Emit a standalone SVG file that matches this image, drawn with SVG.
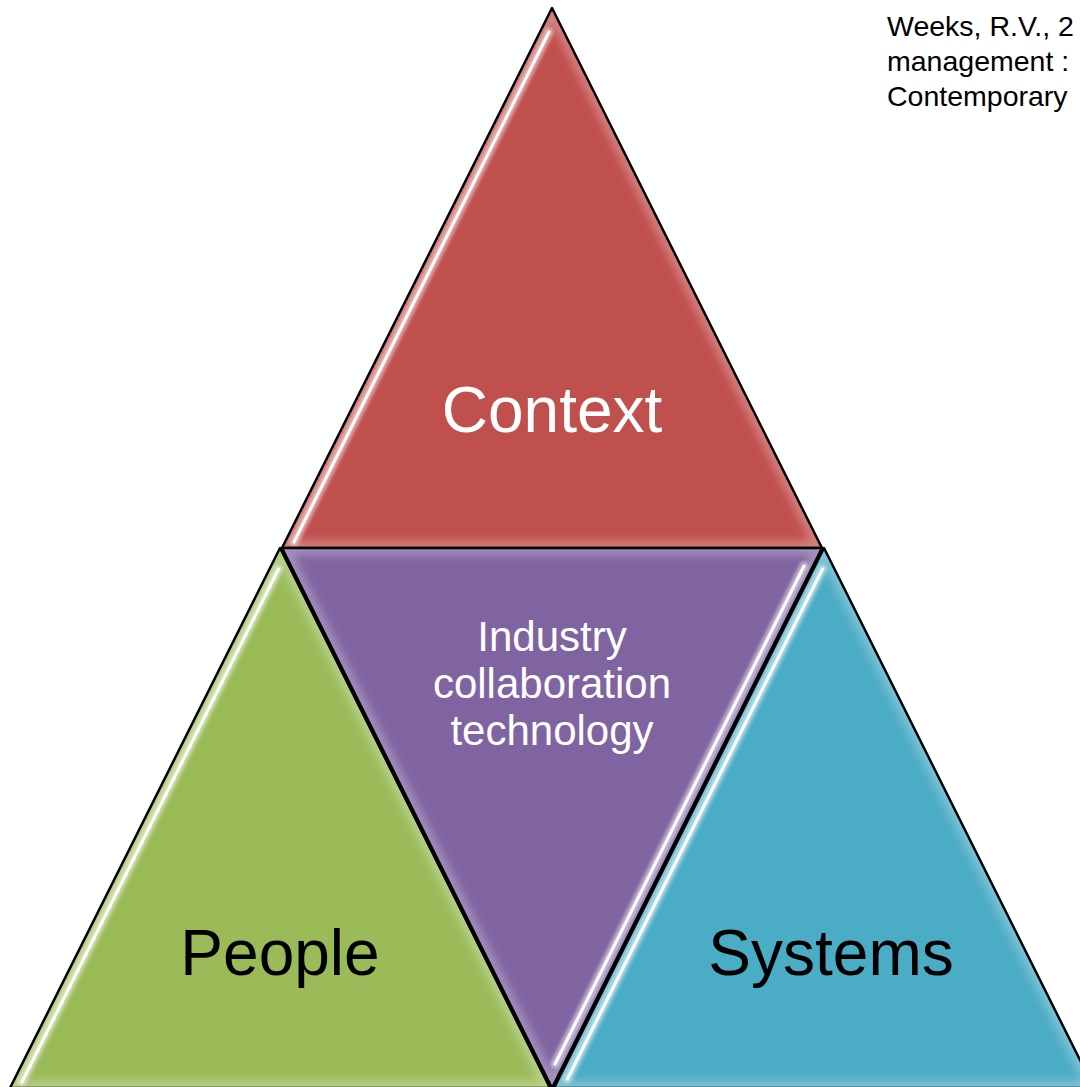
<svg xmlns="http://www.w3.org/2000/svg" width="1080" height="1087" viewBox="0 0 1080 1087">
  <style>
    .outline { fill: none; stroke: #000; stroke-width: 2.5; stroke-linejoin: round; }
    .rim { fill: none; stroke: #fff; stroke-opacity: 0.28; stroke-width: 14; filter: url(#soft); }
    .band { fill: none; stroke: #fff; stroke-opacity: 0.45; stroke-width: 9; stroke-linecap: round; filter: url(#soft2); }
    .gloss { fill: none; stroke: #fff; stroke-width: 3; stroke-linecap: round; }
    .big { font-family: "Liberation Sans", Arial, sans-serif; font-size: 64px; text-anchor: middle; }
    .mid { font-family: "Liberation Sans", Arial, sans-serif; font-size: 42px; text-anchor: middle; fill: #fff; }
    .ref { font-family: "Liberation Sans", Arial, sans-serif; font-size: 28.5px; fill: #000; }
  </style>
  <defs>
    <filter id="soft" x="-10%" y="-10%" width="120%" height="120%"><feGaussianBlur stdDeviation="4"/></filter>
    <filter id="soft2" x="-10%" y="-10%" width="120%" height="120%"><feGaussianBlur stdDeviation="1.5"/></filter>
    <clipPath id="cTop"><path d="M552,8 L822,548 L282,548 Z"/></clipPath>
    <clipPath id="cLeft"><path d="M280,548 L550,1088 L10,1088 Z"/></clipPath>
    <clipPath id="cMid"><path d="M282,548 L822,548 L552,1088 Z"/></clipPath>
    <clipPath id="cRight"><path d="M824,548 L1094,1088 L554,1088 Z"/></clipPath>
  </defs>
  <rect width="1080" height="1087" fill="#fff"/>

  <g id="context">
    <path d="M552,8 L822,548 L282,548 Z" fill="#C0504D"/>
    <g clip-path="url(#cTop)">
      <path class="rim" d="M552,8 L822,548 L282,548 Z"/>
      <path class="band" d="M549,32 L294,542"/>
      <path class="gloss" d="M549,32 L294,542"/>
    </g>
    <path class="outline" d="M552,8 L822,548 L282,548 Z"/>
    <text class="big" x="552" y="432" fill="#fff">Context</text>
  </g>

  <g id="people">
    <path d="M280,548 L550,1088 L10,1088 Z" fill="#9BBB59"/>
    <g clip-path="url(#cLeft)">
      <path class="rim" d="M280,548 L550,1088 L10,1088 Z"/>
      <path class="band" d="M278.5,569 L22,1082"/>
      <path class="gloss" d="M278.5,569 L22,1082"/>
    </g>
    <path class="outline" d="M280,548 L550,1088 L10,1088 Z"/>
    <text class="big" x="280" y="975" fill="#000">People</text>
  </g>

  <g id="industry">
    <path d="M282,548 L822,548 L552,1088 Z" fill="#8064A2"/>
    <g clip-path="url(#cMid)">
      <path class="rim" d="M282,548 L822,548 L552,1088 Z"/>
      <path class="band" d="M804,566 L555,1064"/>
      <path class="gloss" d="M804,566 L555,1064"/>
    </g>
    <path class="outline" d="M282,548 L822,548 L552,1088 Z"/>
    <text class="mid" x="552" y="651">Industry</text>
    <text class="mid" x="552" y="698">collaboration</text>
    <text class="mid" x="552" y="745">technology</text>
  </g>

  <g id="systems">
    <path d="M824,548 L1094,1088 L554,1088 Z" fill="#4BACC6"/>
    <g clip-path="url(#cRight)">
      <path class="rim" d="M824,548 L1094,1088 L554,1088 Z"/>
      <path class="band" d="M822.5,569 L567.5,1079"/>
      <path class="gloss" d="M822.5,569 L567.5,1079"/>
    </g>
    <path class="outline" d="M824,548 L1094,1088 L554,1088 Z"/>
    <text class="big" x="831" y="975" fill="#000">Systems</text>
  </g>

  <g id="reference">
    <text class="ref" x="887" y="36">Weeks, R.V., 2</text>
    <text class="ref" x="887" y="71">management :</text>
    <text class="ref" x="887" y="106">Contemporary</text>
  </g>
</svg>
